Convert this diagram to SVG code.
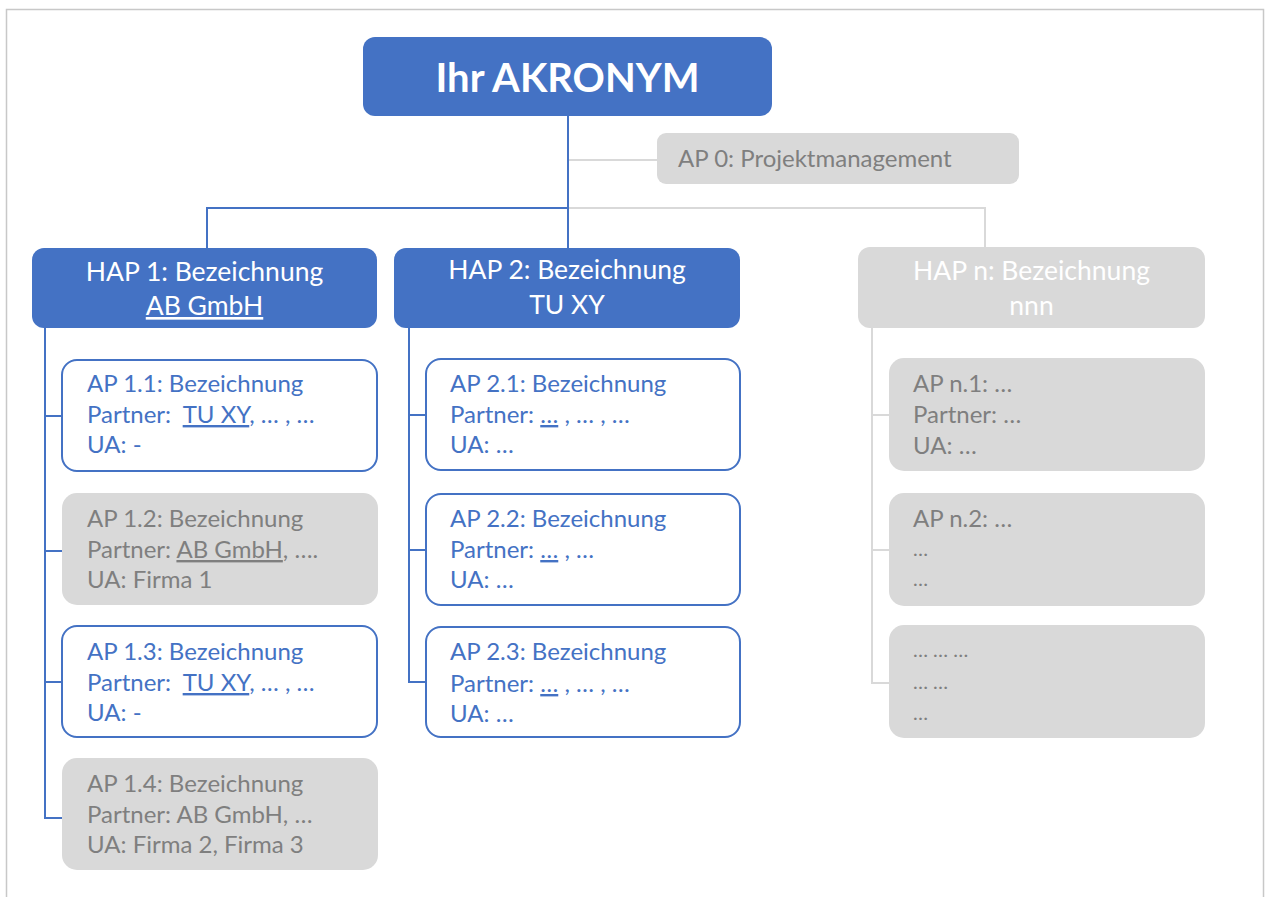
<svg xmlns="http://www.w3.org/2000/svg" width="1265" height="897" viewBox="0 0 1265 897">
<style>
.t{font-family:Lato,"Liberation Sans",sans-serif}
.title{font-size:40px;font-weight:bold;fill:#fff}
.hap{font-size:26.5px;fill:#fff}
.ap{font-size:24px}
.blue{fill:#4472C4}
.grey{fill:#7F7F7F}
.white{fill:#fff}
.u{text-decoration:underline}
.bf{fill:#4472C4}
.gf{fill:#D9D9D9}
.bo{fill:#fff;stroke:#4472C4;stroke-width:2}
.cb{fill:none;stroke:#4472C4;stroke-width:2}
.cg{fill:none;stroke:#D9D9D9;stroke-width:2}
.dots{font-size:20px}
</style>
<rect x="0" y="0" width="1265" height="897" fill="#fff"/>
<rect x="6.5" y="9.5" width="1257" height="900" fill="none" stroke="#C8C8C8" stroke-width="1.5"/>
<g id="connectors">
<path class="cg" d="M568 160H657"/>
<path class="cg" d="M568 208H985V248"/>
<path class="cg" d="M872 328V683H889M872 415H889M872 550H889"/>
<path class="cb" d="M568 116V248"/>
<path class="cb" d="M568 208H207V248"/>
<path class="cb" d="M45 328V818H62M45 416H62M45 551H62M45 682H62"/>
<path class="cb" d="M409 328V682H426M409 415H426M409 550H426"/>
</g>
<g id="title">
<rect class="bf" x="363" y="37" width="409" height="79" rx="12"/>
<text class="t title" x="567.5" y="92" text-anchor="middle">Ihr AKRONYM</text>
</g>
<g id="ap0">
<rect class="gf" x="657" y="133" width="362" height="51" rx="9"/>
<text class="t ap grey" x="678" y="167">AP 0: Projektmanagement</text>
</g>
<g id="hap1">
<rect class="bf" x="32" y="248" width="345" height="80" rx="12"/>
<text class="t hap" x="204.5" y="281" text-anchor="middle">HAP 1: Bezeichnung</text>
<text class="t hap" x="204.5" y="315" text-anchor="middle"><tspan class="u">AB GmbH</tspan></text>
</g>
<g id="hap2">
<rect class="bf" x="394" y="248" width="346" height="80" rx="12"/>
<text class="t hap" x="567" y="279" text-anchor="middle">HAP 2: Bezeichnung</text>
<text class="t hap" x="567" y="314" text-anchor="middle">TU XY</text>
</g>
<g id="hapn">
<rect class="gf" x="858" y="247" width="347" height="81" rx="12"/>
<text class="t hap" x="1031.5" y="280" text-anchor="middle">HAP n: Bezeichnung</text>
<text class="t hap" x="1031.5" y="315" text-anchor="middle">nnn</text>
</g>
<g id="ap11">
<rect class="bo" x="62" y="360" width="315" height="111" rx="15"/>
<text class="t ap blue" x="87" y="392">AP 1.1: Bezeichnung</text>
<text class="t ap blue" x="87" y="423" xml:space="preserve">Partner:  <tspan class="u">TU XY</tspan>, … , …</text>
<text class="t ap blue" x="87" y="453">UA: -</text>
</g>
<g id="ap12">
<rect class="gf" x="62" y="493" width="316" height="112" rx="15"/>
<text class="t ap grey" x="87" y="527">AP 1.2: Bezeichnung</text>
<text class="t ap grey" x="87" y="558">Partner: <tspan class="u">AB GmbH</tspan>, ….</text>
<text class="t ap grey" x="87" y="588">UA: Firma 1</text>
</g>
<g id="ap13">
<rect class="bo" x="62" y="626" width="315" height="111" rx="15"/>
<text class="t ap blue" x="87" y="660">AP 1.3: Bezeichnung</text>
<text class="t ap blue" x="87" y="691" xml:space="preserve">Partner:  <tspan class="u">TU XY</tspan>, … , …</text>
<text class="t ap blue" x="87" y="721">UA: -</text>
</g>
<g id="ap14">
<rect class="gf" x="62" y="758" width="316" height="112" rx="15"/>
<text class="t ap grey" x="87" y="792">AP 1.4: Bezeichnung</text>
<text class="t ap grey" x="87" y="823">Partner: AB GmbH, …</text>
<text class="t ap grey" x="87" y="853">UA: Firma 2, Firma 3</text>
</g>
<g id="ap21">
<rect class="bo" x="426" y="359" width="314" height="111" rx="15"/>
<text class="t ap blue" x="450" y="392">AP 2.1: Bezeichnung</text>
<text class="t ap blue" x="450" y="423">Partner: <tspan class="u">…</tspan> , … , …</text>
<text class="t ap blue" x="450" y="453">UA: …</text>
</g>
<g id="ap22">
<rect class="bo" x="426" y="494" width="314" height="111" rx="15"/>
<text class="t ap blue" x="450" y="527">AP 2.2: Bezeichnung</text>
<text class="t ap blue" x="450" y="558">Partner: <tspan class="u">…</tspan> , …</text>
<text class="t ap blue" x="450" y="588">UA: …</text>
</g>
<g id="ap23">
<rect class="bo" x="426" y="627" width="314" height="110" rx="15"/>
<text class="t ap blue" x="450" y="660">AP 2.3: Bezeichnung</text>
<text class="t ap blue" x="450" y="692">Partner: <tspan class="u">…</tspan> , … , …</text>
<text class="t ap blue" x="450" y="722">UA: …</text>
</g>
<g id="apn1">
<rect class="gf" x="889" y="358" width="316" height="113" rx="15"/>
<text class="t ap grey" x="913" y="392">AP n.1: …</text>
<text class="t ap grey" x="913" y="423">Partner: …</text>
<text class="t ap grey" x="913" y="454">UA: …</text>
</g>
<g id="apn2">
<rect class="gf" x="889" y="493" width="316" height="113" rx="15"/>
<text class="t ap grey" x="913" y="527">AP n.2: …</text>
<text class="t dots grey" x="913" y="556">…</text>
<text class="t dots grey" x="913" y="586">…</text>
</g>
<g id="apn3">
<rect class="gf" x="889" y="625" width="316" height="113" rx="15"/>
<text class="t dots grey" x="913" y="657">… … …</text>
<text class="t dots grey" x="913" y="689">… …</text>
<text class="t dots grey" x="913" y="720">…</text>
</g>
</svg>
